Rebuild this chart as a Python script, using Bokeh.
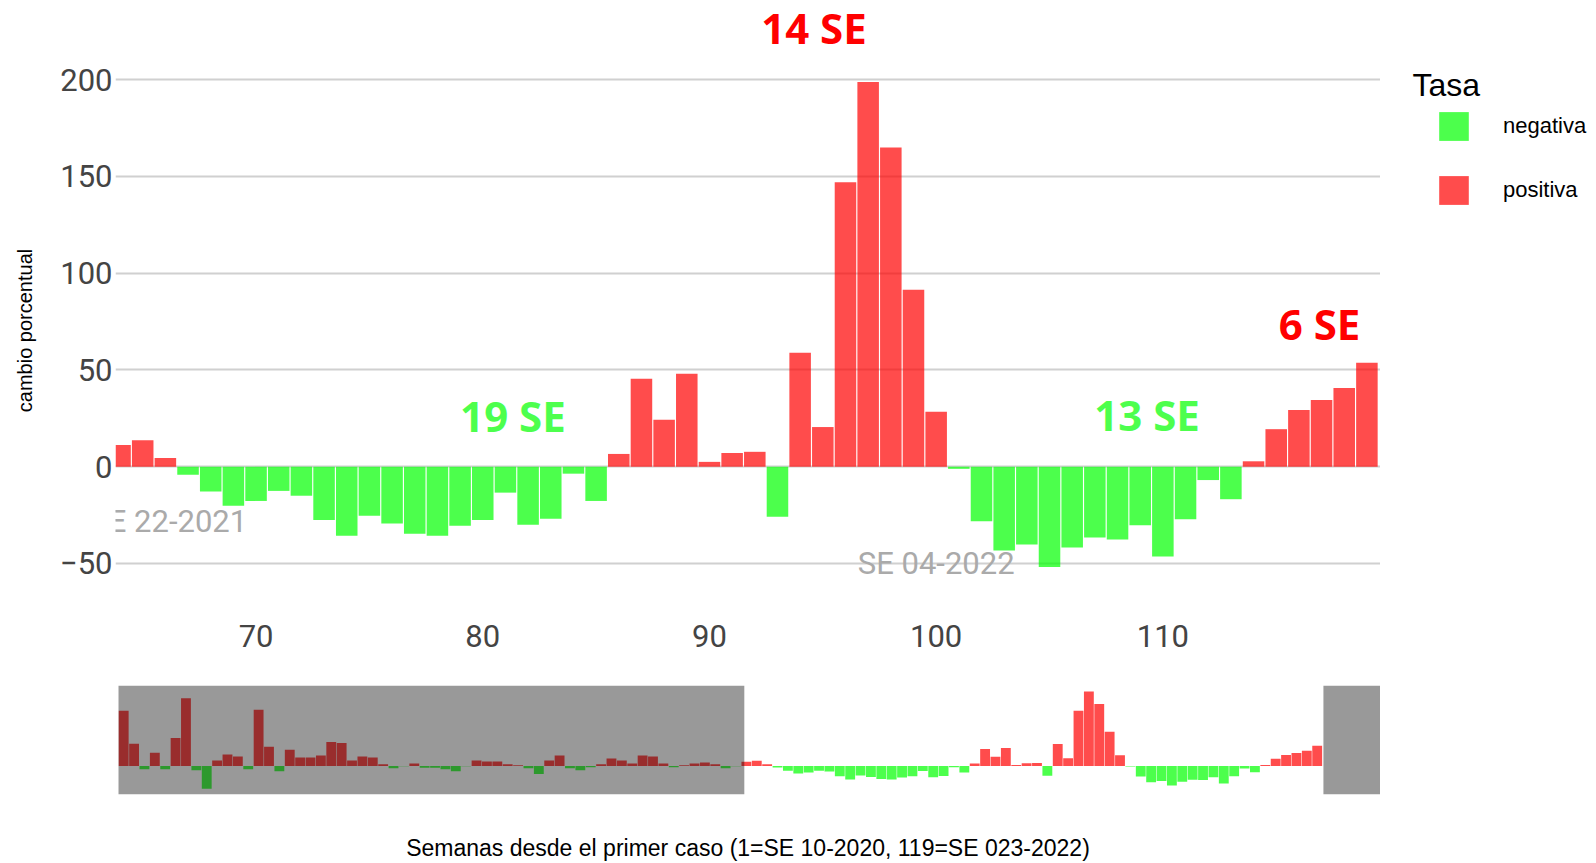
from bokeh.plotting import figure
from bokeh.models import (ColumnDataSource, Range1d, FixedTicker, Legend, LegendItem,
                          Label, BoxAnnotation, CustomJSTickFormatter, CDSView, BooleanFilter)
from bokeh.layouts import column, row
from bokeh.embed import file_html
from bokeh.resources import INLINE
from bokeh.core.properties import value

# ---------------- data ----------------
weeks = list(range(4, 120))
change = [147, 59, -8.7, 35.5, -8.7, 74.4, 180.8, -11.2, -60.6, 14.7,          # 4-13
          30.3, 25, -8.7, 149.7, 51, -13.8, 43.3, 22.5, 22.5, 27.7,           # 14-23
          64, 61.4, 14.7, 25, 22.5, 4.3, -6, -1, 6.9, -5,                     # 24-33
          -5, -8.7, -13.8, -1, 14.7, 12.1, 12.1, 4.3, 1.7, -6,                # 34-43
          -21.6, 14.7, 27.7, -6, -11.2, -3.5, 4.3, 19.9, 14.7, 6.9,           # 44-53
          27.7, 25, 6.9, -3.5, 1.7, 6.9, 9.5, 4.3, -6, -1,                    # 54-63
          11.2, 13.7, 4.5, -4.1, -12.8, -20.2, -17.7, -12.5, -15, -27.5,      # 64-73
          -35.7, -25.3, -29.4, -34.6, -35.7, -30.5, -27.5, -13.4, -30, -26.9, # 74-83
          -3.6, -17.7, 6.6, 45.5, 24.3, 48, 2.5, 7.1, 7.7, -25.9,             # 84-93
          58.9, 20.5, 147, 198.8, 165, 91.5, 28.4, -1.1, -28.2, -43.3,        # 94-103
          -40.2, -51.8, -41.8, -36.6, -37.6, -30.3, -46.4, -27.2, -6.9, -16.8,# 104-113
          2.8, 19.4, 29.3, 34.5, 40.7, 53.7]                                  # 114-119
categories = ["negativa", "positiva"]

run_labels = ["19 SE", "13 SE", "6 SE"]
run_x = [81.33, 109.3, 116.91]
run_y = [26.4, 26.9, 74.0]
run_colors = ["#4dff4d", "#4dff4d", "#ff0000"]
top_label = ["14 SE"]
top_x = [94.61]

se_labels = ["SE 22-2021", "SE 04-2022"]
se_x = [66.15, 100]
se_y = [-28.3, -50.2]

y_ticks = [-50, 0, 50, 100, 150, 200]
x_ticks = [70, 80, 90, 100, 110]

x_view = (63.8, 119.6)
y_view = (-70.7, 211.5)
x_full = (3.21, 125.1)      # overview axis
slider_start = 3.5          # left end of the range-slider strip
y_full = (-76, 214.5)

neg_weeks = [w for w, v in zip(weeks, change) if v < 0]
neg_vals = [v for v in change if v < 0]
pos_weeks = [w for w, v in zip(weeks, change) if v >= 0]
pos_vals = [v for v in change if v >= 0]
neg_src = ColumnDataSource(dict(week=neg_weeks, change=neg_vals))
pos_src = ColumnDataSource(dict(week=pos_weeks, change=pos_vals))
neg_view = CDSView(filter=BooleanFilter([w + 0.5 > x_view[0] for w in neg_weeks]))
pos_view = CDSView(filter=BooleanFilter([w + 0.5 > x_view[0] for w in pos_weeks]))

RED = "#ff0000"
GREEN = "#00ff00"
TICK_FONT = "Roboto"
TICK_COLOR = "#444444"

x_main = Range1d(*x_view)

# ---------------- strip above the chart (holds the "14 SE" note) ----------------
top = figure(width=1380, height=57, x_range=x_main, y_range=Range1d(0, 1),
             output_backend="svg", toolbar_location=None,
             x_axis_location=None, y_axis_location=None,
             min_border_left=115, min_border_right=0, min_border_top=0, min_border_bottom=0)
top.outline_line_color = None
top.xgrid.visible = False
top.ygrid.visible = False
top.text(x=top_x, y=[0.53], text=top_label, text_color="#ff0000", text_font=value("Open Sans"),
         text_font_style="bold", text_font_size="42px", text_align="center",
         text_baseline="middle")

# ---------------- main chart ----------------
p = figure(width=1380, height=607, x_range=x_main, y_range=Range1d(*y_view),
           output_backend="svg", toolbar_location=None,
           min_border_left=115, min_border_right=0, min_border_top=0, min_border_bottom=61)
p.outline_line_color = None
p.xgrid.visible = False
p.ygrid.ticker = FixedTicker(ticks=y_ticks)
p.ygrid.grid_line_color = "#d0d0d0"
p.ygrid.grid_line_width = 2

rn = p.vbar(x="week", top="change", width=0.95, source=neg_src, view=neg_view,
            fill_color=GREEN, fill_alpha=0.7, line_color=None)
rp = p.vbar(x="week", top="change", width=0.95, source=pos_src, view=pos_view,
            fill_color=RED, fill_alpha=0.7, line_color=None)

p.text(x=se_x, y=se_y, text=se_labels, text_font=value(TICK_FONT), text_font_size="31px",
       text_color="#aaaaaa", text_align="center", text_baseline="middle")
p.text(x=run_x, y=run_y, text=run_labels, text_color=run_colors, text_font=value("Open Sans"),
       text_font_style="bold", text_font_size="42px", text_align="center",
       text_baseline="middle")

minus_fmt = CustomJSTickFormatter(code="return tick < 0 ? '\\u2212' + (-tick) : '' + tick;")

p.yaxis.ticker = FixedTicker(ticks=y_ticks)
p.yaxis.formatter = minus_fmt
p.xaxis.ticker = FixedTicker(ticks=x_ticks)
for ax in (p.xaxis, p.yaxis):
    ax.axis_line_color = None
    ax.major_tick_line_color = None
    ax.minor_tick_line_color = None
    ax.major_tick_out = 0
    ax.major_tick_in = 0
    ax.minor_tick_out = 0
    ax.major_label_text_font = TICK_FONT
    ax.major_label_text_font_size = "31px"
    ax.major_label_text_color = TICK_COLOR
p.yaxis.major_label_standoff = 3
p.xaxis.major_label_standoff = 21
p.yaxis.axis_label = "cambio porcentual"
p.yaxis.axis_label_text_font = "Liberation Sans"
p.yaxis.axis_label_text_font_size = "20px"
p.yaxis.axis_label_text_font_style = "normal"
p.yaxis.axis_label_text_color = "black"
p.yaxis.axis_label_standoff = 21

# ---------------- overview (range slider look) ----------------
o = figure(width=1380, height=199, x_range=Range1d(*x_full), y_range=Range1d(*y_full),
           output_backend="svg", toolbar_location=None, y_axis_location=None,
           min_border_left=115, min_border_right=0, min_border_top=21, min_border_bottom=68)
o.outline_line_color = None
o.grid.visible = False
o.vbar(x="week", top="change", width=0.95, source=neg_src, fill_color=GREEN,
       fill_alpha=0.7, line_color=None)
o.vbar(x="week", top="change", width=0.95, source=pos_src, fill_color=RED,
       fill_alpha=0.7, line_color=None)
o.add_layout(BoxAnnotation(left=slider_start, right=x_view[0], fill_color="black",
                           fill_alpha=0.4, line_color=None))
o.add_layout(BoxAnnotation(left=x_view[1], fill_color="black", fill_alpha=0.4, line_color=None))
o.xaxis.ticker = FixedTicker(ticks=[])
o.xaxis.axis_line_color = None
o.xaxis.major_tick_line_color = None
o.xaxis.minor_tick_line_color = None
o.xaxis.major_label_standoff = 0
o.xaxis.major_label_text_font_size = "0px"
o.xaxis.axis_label = "Semanas desde el primer caso (1=SE 10-2020, 119=SE 023-2022)"
o.xaxis.axis_label_text_font = "Liberation Sans"
o.xaxis.axis_label_text_font_size = "23px"
o.xaxis.axis_label_text_font_style = "normal"
o.xaxis.axis_label_text_color = "black"
o.xaxis.axis_label_standoff = 40

# ---------------- legend panel ----------------
LH = 664
lf = figure(width=212, height=LH, x_range=Range1d(0, 1), y_range=Range1d(0, 1),
            output_backend="svg", toolbar_location=None,
            x_axis_location=None, y_axis_location=None,
            min_border_left=0, min_border_right=0, min_border_top=0, min_border_bottom=0)
lf.outline_line_color = None
lf.xgrid.visible = False
lf.ygrid.visible = False
key_src = ColumnDataSource(dict(x=[0.5], top=[0.0]))
ln = lf.vbar(x="x", top="top", bottom=0, width=0.1, source=key_src,
             fill_color=GREEN, fill_alpha=0.7, line_color=None)
lp = lf.vbar(x="x", top="top", bottom=0, width=0.1, source=key_src,
             fill_color=RED, fill_alpha=0.7, line_color=None)
legend = Legend(items=[LegendItem(label=categories[0], renderers=[ln]),
                       LegendItem(label=categories[1], renderers=[lp])],
                location=(55, LH - 208), orientation="vertical", padding=0, margin=0,
                spacing=28, glyph_width=37, glyph_height=36, label_height=36,
                label_standoff=31, label_text_font="Liberation Sans",
                label_text_font_size="22px", label_text_color="black",
                border_line_color=None, background_fill_alpha=0)
lf.add_layout(legend)
lf.add_layout(Label(x=32, y=LH - 84, x_units="screen", y_units="screen", text="Tasa",
                    text_font="Liberation Sans", text_font_size="32px", text_color="black",
                    text_baseline="middle"))

layout = row(column(top, p, o, spacing=0), lf, spacing=0)
open("out.html", "w").write(file_html(layout, INLINE))
